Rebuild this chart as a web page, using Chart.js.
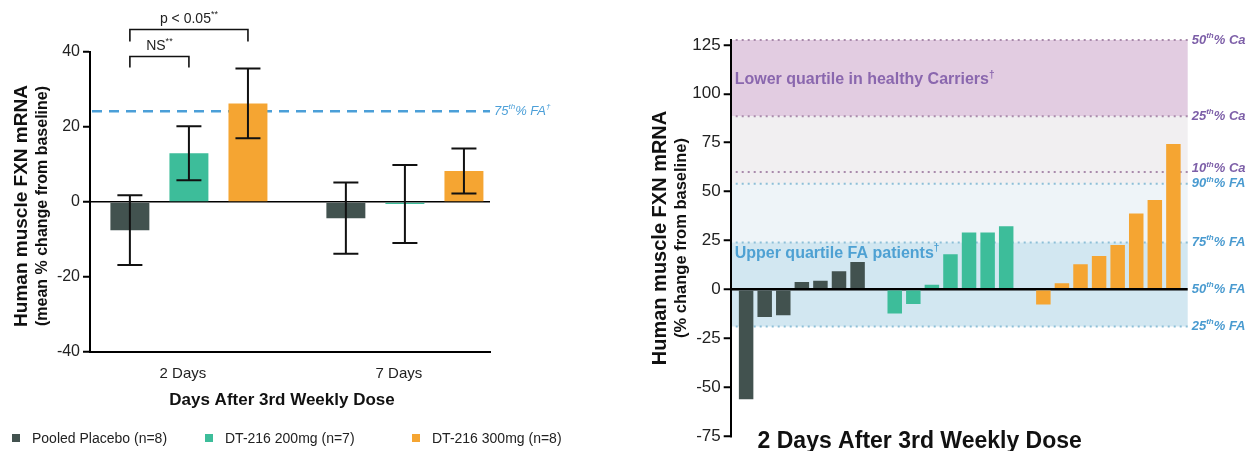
<!DOCTYPE html>
<html><head><meta charset="utf-8">
<script src="https://cdn.jsdelivr.net/npm/chart.js@4.4.1/dist/chart.umd.min.js"></script>
<style>
html,body{margin:0;padding:0;background:#fff;}
#wrap{position:relative;width:1249px;height:451px;overflow:hidden;background:#fff;}
.pane{position:absolute;top:0;height:451px;}
#legend1{position:absolute;left:12px;top:430px;display:flex;white-space:nowrap;
  font-family:'Liberation Sans',Arial,Helvetica,sans-serif;font-size:14px;line-height:16px;color:#222;}
#legend1 .li{display:flex;align-items:center;}
#legend1 .li:nth-child(1){width:193px;}
#legend1 .li:nth-child(2){width:207px;}
#legend1 .sw{display:inline-block;width:8px;height:8px;margin-right:12px;}
</style></head><body>
<div id="wrap">
  <div class="pane" style="left:0;width:620px"><canvas id="c1" width="620" height="451"></canvas></div>
  <div class="pane" style="left:620px;width:629px"><canvas id="c2" width="629" height="451"></canvas></div>
  <div id="legend1"></div>
</div>
<script>
// ---------- DATA (left: group means ± error) ----------
const timepoints = ['2 Days', '7 Days'];
const groupNames = ['Pooled Placebo (n=8)', 'DT-216 200mg (n=7)', 'DT-216 300mg (n=8)'];
const placeboMean = [-7.5, -4.3];
const placeboErr  = [9.3, 9.5];
const dt200Mean   = [13.0, -0.5];
const dt200Err    = [7.2, 10.4];
const dt300Mean   = [26.3, 8.3];
const dt300Err    = [9.3, 6.0];
const leftYTicks  = [-40, -20, 0, 20, 40];
const fa75Value   = 24.2;

// ---------- DATA (right: individual patients, 2 days) ----------
const placeboPatients = [-56.2, -14.1, -13.3, 3.7, 4.4, 9.2, 14.0];
const dt200Patients   = [-12.3, -7.5, 2.4, 17.9, 29.0, 29.0, 32.2];
const dt300Patients   = [-7.8, 3.1, 12.8, 17.0, 22.7, 38.8, 45.7, 74.3];
const rightYTicks = [-75, -50, -25, 0, 25, 50, 75, 100, 125];
const refLabels = ['50th% Ca', '25th% Ca', '10th% Ca', '90th% FA', '75th% FA', '50th% FA', '25th% FA'];
const refValues = [127.5, 88.5, 60, 54, 24, 0, -19];

// ---------- STYLE ----------
const FONT = "'Liberation Sans', Arial, Helvetica, sans-serif";
const COLORS = ['#42524f', '#3dbd9a', '#f5a532'];
const PURPLE_TXT = '#7d5fa8', BLUE_TXT = '#4a9bd0';

function richParts(text) {
  return text.split(/(\^\{[^}]*\})/).filter(Boolean).map(p =>
    p.startsWith('^{') ? {t: p.slice(2, -1), sup: true} : {t: p, sup: false});
}
function drawRich(ctx, text, x, y, size, color, style, align, rotate) {
  const parts = richParts(text);
  const supSize = Math.round(size * 0.62);
  ctx.save();
  let total = 0;
  parts.forEach(p => {
    ctx.font = `${style} ${p.sup ? supSize : size}px ${FONT}`;
    p.w = ctx.measureText(p.t).width; total += p.w;
  });
  ctx.translate(x, y);
  if (rotate) ctx.rotate(rotate);
  let cx = align === 'center' ? -total / 2 : 0;
  ctx.fillStyle = color; ctx.textBaseline = 'middle'; ctx.textAlign = 'left';
  parts.forEach(p => {
    ctx.font = `${style} ${p.sup ? supSize : size}px ${FONT}`;
    ctx.fillText(p.t, cx, p.sup ? -size * 0.33 : 0);
    cx += p.w;
  });
  ctx.restore();
}
const supTh = s => s.replace(/(\d)th/, '$1^{th}');

// ---------- LEFT CHART ----------
const errorBars = {
  id: 'errorBars',
  afterDatasetsDraw(chart) {
    const {ctx} = chart, y = chart.scales.y;
    ctx.save(); ctx.strokeStyle = '#111'; ctx.lineWidth = 2;
    chart.data.datasets.forEach((ds, di) => {
      chart.getDatasetMeta(di).data.forEach((bar, i) => {
        const m = ds.data[i], e = ds.errors[i];
        const yt = y.getPixelForValue(m + e), yb = y.getPixelForValue(m - e);
        const hw = 12.5;
        ctx.beginPath();
        ctx.moveTo(bar.x, yt); ctx.lineTo(bar.x, yb);
        ctx.moveTo(bar.x - hw, yt); ctx.lineTo(bar.x + hw, yt);
        ctx.moveTo(bar.x - hw, yb); ctx.lineTo(bar.x + hw, yb);
        ctx.stroke();
      });
    });
    ctx.restore();
  }
};

const htmlLegend = {
  id: 'htmlLegend',
  afterUpdate(chart) {
    const box = document.getElementById('legend1');
    box.innerHTML = '';
    chart.data.datasets.forEach(ds => {
      const item = document.createElement('span'); item.className = 'li';
      const sw = document.createElement('span'); sw.className = 'sw'; sw.style.background = ds.backgroundColor;
      const tx = document.createElement('span'); tx.textContent = ds.label;
      item.append(sw, tx); box.append(item);
    });
  }
};

const leftAnnot = {
  id: 'leftAnnot',
  beforeDatasetsDraw(chart) {
    const {ctx, chartArea: a} = chart, y = chart.scales.y;
    const py = y.getPixelForValue(fa75Value);
    ctx.save();
    ctx.strokeStyle = '#4b9fd8'; ctx.lineWidth = 2.5; ctx.setLineDash([10, 7]);
    ctx.beginPath(); ctx.moveTo(a.left + 2, py); ctx.lineTo(a.right, py); ctx.stroke();
    ctx.restore();
    drawRich(ctx, '75^{th}% FA^{†}', a.right + 4, py, 13, '#4b9fd8', 'italic', 'left');
  },
  afterDatasetsDraw(chart) {
    const {ctx, chartArea: a} = chart, y = chart.scales.y;
    const xs = [0, 1, 2].map(d => chart.getDatasetMeta(d).data[0].x);
    const bracket = (xa, xb, top, leg, label) => {
      const yt = y.getPixelForValue(top), yl = y.getPixelForValue(leg);
      ctx.save(); ctx.strokeStyle = '#111'; ctx.lineWidth = 1.6;
      ctx.beginPath(); ctx.moveTo(xa, yl); ctx.lineTo(xa, yt); ctx.lineTo(xb, yt); ctx.lineTo(xb, yl); ctx.stroke();
      ctx.restore();
      drawRich(ctx, label, (xa + xb) / 2, yt - 10, 14, '#222', 'normal', 'center');
    };
    bracket(xs[0], xs[1], 38.8, 35.9, 'NS^{**}');
    bracket(xs[0], xs[2], 46.0, 42.8, 'p < 0.05^{**}');
    const cy = (a.top + a.bottom) / 2 + 4;
    drawRich(ctx, 'Human muscle FXN mRNA', a.left - 68, cy, 19, '#111', 'bold', 'center', -Math.PI / 2);
    drawRich(ctx, '(mean % change from baseline)', a.left - 47, cy, 16, '#111', 'bold', 'center', -Math.PI / 2);
    drawRich(ctx, 'Days After 3rd Weekly Dose', (a.left + a.right) / 2 - 8, a.bottom + 48, 17, '#111', 'bold', 'center');
  }
};

new Chart(document.getElementById('c1'), {
  type: 'bar',
  data: {
    labels: timepoints,
    datasets: [
      {label: groupNames[0], data: placeboMean, errors: placeboErr, backgroundColor: COLORS[0]},
      {label: groupNames[1], data: dt200Mean, errors: dt200Err, backgroundColor: COLORS[1]},
      {label: groupNames[2], data: dt300Mean, errors: dt300Err, backgroundColor: COLORS[2]}
    ]
  },
  options: {
    responsive: false, animation: false, devicePixelRatio: 1,
    categoryPercentage: 0.82, barPercentage: 0.66,
    layout: {padding: {top: 52, right: 130, left: 0, bottom: 0}},
    scales: {
      x: {
        type: 'category',
        afterBuildTicks: s => { s._startValue = -0.458; s._valueRange = 1.852; },
        grid: {display: false, drawTicks: false},
        border: {display: true, color: '#000', width: 2},
        ticks: {color: '#222', font: {family: FONT, size: 15}, padding: 13, labelOffset: -6},
        afterFit: s => { s.height = 99; }
      },
      y: {
        min: -40, max: 40,
        afterBuildTicks: s => { s.ticks = leftYTicks.map(v => ({value: v})); },
        grid: {color: c => (c.tick && c.tick.value === 0) ? '#000' : 'rgba(0,0,0,0)', lineWidth: 1.5,
               drawTicks: true, tickLength: 7, tickColor: '#000', tickWidth: 2},
        border: {display: true, color: '#000', width: 2},
        ticks: {color: '#222', font: {family: FONT, size: 16}, padding: 3},
        afterFit: s => { s.width = 90; }
      }
    },
    plugins: {tooltip: {enabled: false}, legend: {display: false}}
  },
  plugins: [leftAnnot, errorBars, htmlLegend]
});

// ---------- RIGHT CHART ----------
const patientGroups = [placeboPatients, dt200Patients, dt300Patients];
const slotLabels = [];
const groupStart = [];
patientGroups.forEach((g, gi) => {
  if (gi > 0) slotLabels.push('');
  groupStart.push(slotLabels.length);
  g.forEach(() => slotLabels.push(''));
});
const rightDatasets = patientGroups.map((g, gi) => {
  const arr = slotLabels.map(() => null);
  g.forEach((v, i) => { arr[groupStart[gi] + i] = v; });
  return {label: groupNames[gi], data: arr, backgroundColor: COLORS[gi], grouped: false};
});

const refVal = name => refValues[refLabels.indexOf(name)];
const rightAnnot = {
  id: 'rightAnnot',
  beforeDraw(chart) {
    const {ctx, chartArea: a} = chart, y = chart.scales.y;
    const bands = [
      [refVal('25th% Ca'), refVal('50th% Ca'), '#e2cce1'],
      [refVal('90th% FA'), refVal('25th% Ca'), '#f1eff1'],
      [refVal('75th% FA'), refVal('90th% FA'), '#eef4f8'],
      [refVal('25th% FA'), refVal('75th% FA'), '#d2e7f1']
    ];
    ctx.save();
    bands.forEach(([lo, hi, col]) => {
      const yt = y.getPixelForValue(hi), yb = y.getPixelForValue(lo);
      ctx.fillStyle = col; ctx.fillRect(a.left, yt, a.right - a.left, yb - yt);
    });
    ctx.lineWidth = 2; ctx.setLineDash([2, 4]);
    refLabels.forEach((lab, i) => {
      if (refValues[i] === 0) return;
      const py = y.getPixelForValue(refValues[i]);
      ctx.strokeStyle = lab.includes('Ca') ? '#a98aab' : '#8dbfd8';
      ctx.beginPath(); ctx.moveTo(a.left + 5, py); ctx.lineTo(a.right, py); ctx.stroke();
    });
    ctx.restore();
  },
  afterDatasetsDraw(chart) {
    const {ctx, chartArea: a} = chart, y = chart.scales.y;
    const pys = refValues.map(v => y.getPixelForValue(v));
    for (let i = 0; i < pys.length - 1; i++) {
      const gap = pys[i + 1] - pys[i];
      if (gap < 15) pys[i] -= (15 - gap);
    }
    refLabels.forEach((lab, i) => {
      drawRich(ctx, supTh(lab), a.right + 4, pys[i], 13,
        lab.includes('Ca') ? PURPLE_TXT : BLUE_TXT, 'italic bold', 'left');
    });
    drawRich(ctx, 'Lower quartile in healthy Carriers^{†}', a.left + 4, y.getPixelForValue(107), 16, '#8a67ae', 'bold', 'left');
    drawRich(ctx, 'Upper quartile FA patients^{†}', a.left + 4, y.getPixelForValue(18.5), 16, '#4ea1d3', 'bold', 'left');
    const cy = (a.top + a.bottom) / 2;
    drawRich(ctx, 'Human muscle FXN mRNA', a.left - 70, cy, 20, '#111', 'bold', 'center', -Math.PI / 2);
    drawRich(ctx, '(% change from baseline)', a.left - 49, cy, 16.5, '#111', 'bold', 'center', -Math.PI / 2);
    drawRich(ctx, '2 Days After 3rd Weekly Dose', a.left + 189, 442, 23, '#111', 'bold', 'center');
  }
};

new Chart(document.getElementById('c2'), {
  type: 'bar',
  data: {labels: slotLabels, datasets: rightDatasets},
  options: {
    responsive: false, animation: false, devicePixelRatio: 1,
    categoryPercentage: 1, barPercentage: 0.78,
    layout: {padding: {top: 40, right: 61.3, left: 0, bottom: 15}},
    scales: {
      x: {
        type: 'category',
        afterBuildTicks: s => { s._startValue = -0.83; s._valueRange = 24.6; },
        grid: {display: false, drawTicks: false},
        border: {display: false},
        ticks: {display: false},
        afterFit: s => { s.height = 0; }
      },
      y: {
        min: -75, max: 127.5,
        afterBuildTicks: s => { s.ticks = rightYTicks.map(v => ({value: v})); },
        grid: {color: c => (c.tick && c.tick.value === 0) ? '#000' : 'rgba(0,0,0,0)', lineWidth: 2.5,
               drawTicks: true, tickLength: 7, tickColor: '#000', tickWidth: 2},
        border: {display: true, color: '#000', width: 2},
        ticks: {color: '#222', font: {family: FONT, size: 17}, padding: 3},
        afterFit: s => { s.width = 110.7; }
      }
    },
    plugins: {tooltip: {enabled: false}, legend: {display: false}}
  },
  plugins: [rightAnnot]
});
</script>
</body></html>
